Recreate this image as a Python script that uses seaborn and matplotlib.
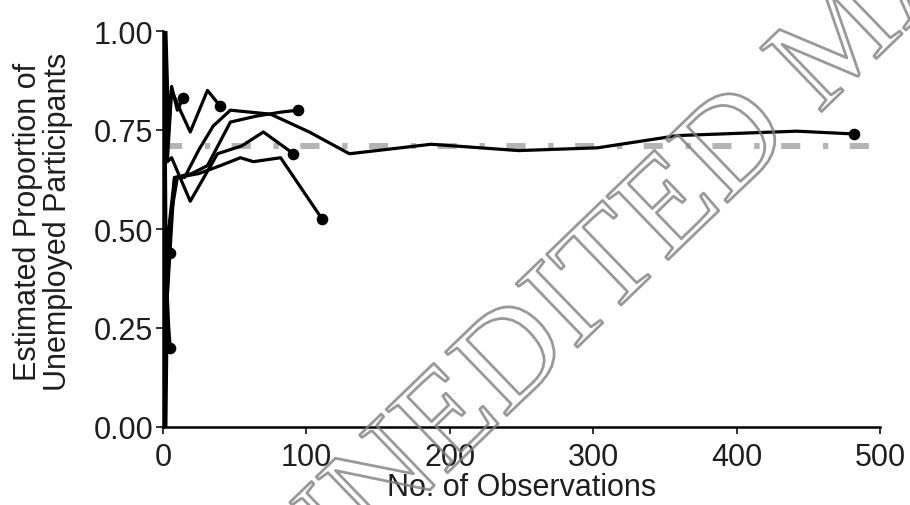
import numpy as np
import pandas as pd
import matplotlib
matplotlib.use("Agg")
import matplotlib.pyplot as plt
import matplotlib.patheffects as pe
import seaborn as sns

# ---- data ----
run_a_n = [1, 2, 3, 4, 5]
run_a_p = [0.0, 0.0, 0.33, 0.25, 0.20]
run_b_n = [1, 2, 3, 4, 5]
run_b_p = [1.0, 0.5, 0.33, 0.5, 0.44]
run_c_n = [1, 2, 4, 6, 10, 14]
run_c_p = [1.0, 1.0, 0.75, 0.86, 0.80, 0.83]
run_d_n = [1, 3, 6, 12, 19, 31, 40]
run_d_p = [1.0, 0.67, 0.85, 0.80, 0.745, 0.85, 0.81]
run_e_n = [1, 2, 4, 8, 15, 25, 35, 47, 75, 102, 130, 187, 248, 303, 359, 442, 482]
run_e_p = [0.0, 0.5, 0.5, 0.63, 0.63, 0.70, 0.76, 0.80, 0.79, 0.745, 0.69,
           0.714, 0.698, 0.705, 0.736, 0.747, 0.74]
run_f_n = [1, 3, 8, 20, 31, 47, 65, 82, 94]
run_f_p = [0.0, 0.33, 0.63, 0.64, 0.66, 0.77, 0.785, 0.795, 0.80]
run_g_n = [1, 3, 6, 19, 38, 55, 70, 91]
run_g_p = [1.0, 0.67, 0.68, 0.57, 0.69, 0.71, 0.745, 0.69]
run_h_n = [1, 4, 10, 25, 40, 54, 63, 82, 111]
run_h_p = [0.0, 0.5, 0.63, 0.64, 0.66, 0.68, 0.67, 0.68, 0.525]

true_proportion = 0.71
x_ticks = [0, 100, 200, 300, 400, 500]
y_ticks = [0.0, 0.25, 0.50, 0.75, 1.00]
y_tick_labels = ["0.00", "0.25", "0.50", "0.75", "1.00"]
x_label = "No. of Observations"
y_label = "Estimated Proportion of\nUnemployed Participants"
watermark = "UNEDITED MANUSCRIPT"

runs = {
    "a": (run_a_n, run_a_p), "b": (run_b_n, run_b_p), "c": (run_c_n, run_c_p),
    "d": (run_d_n, run_d_p), "e": (run_e_n, run_e_p), "f": (run_f_n, run_f_p),
    "g": (run_g_n, run_g_p), "h": (run_h_n, run_h_p),
}
frames = [pd.DataFrame({"n": n, "p": p, "run": k}) for k, (n, p) in runs.items()]
df = pd.concat(frames, ignore_index=True)
ends = df.groupby("run", as_index=False).last()

# ---- style ----
sns.set_theme(style="ticks")
plt.rcParams["font.family"] = ["Liberation Sans", "DejaVu Sans"]
TXT = "#1e1e1e"

fig = plt.figure(figsize=(9.1, 5.06), dpi=100)
ax = fig.add_axes([163 / 910, 1 - 428 / 506, 717 / 910, 396 / 506])

ax.axhline(true_proportion, color="#b4b4b4", lw=4.3, dashes=(3.2, 3.8, 0.9, 3.6),
           dash_capstyle="butt", zorder=1)

sns.lineplot(data=df, x="n", y="p", units="run", estimator=None, color="black",
             lw=2.3, ax=ax, zorder=3, legend=False)
sns.scatterplot(data=ends, x="n", y="p", color="black", s=70, edgecolor="black",
                linewidth=0, ax=ax, zorder=4, legend=False)

ax.set_xlim(0, 500)
ax.set_ylim(0, 1.0)
ax.set_xticks(x_ticks)
ax.set_yticks(y_ticks)
ax.set_yticklabels(y_tick_labels)
sns.despine(ax=ax)
for s in ["left", "bottom"]:
    ax.spines[s].set_linewidth(1.8)
    ax.spines[s].set_color("black")
ax.tick_params(axis="both", length=5, width=1.4, color="#333333",
               labelsize=22, labelcolor=TXT, direction="out")
ax.tick_params(axis="y", pad=2)
ax.tick_params(axis="x", pad=6)

ax.set_xlabel(x_label, fontsize=22, color=TXT, labelpad=0)
ax.set_ylabel(y_label, fontsize=22, color=TXT, linespacing=1.0)
ax.yaxis.set_label_coords(-0.126, 0.52)

# watermark (outlined serif text)
t = fig.text(282 / 910, 1 - 588 / 506, watermark, fontsize=97,
             family=["Liberation Serif", "DejaVu Serif"],
             color=(1, 1, 1, 0), rotation=44, rotation_mode="anchor",
             ha="left", va="center", zorder=10)
t.set_path_effects([pe.Stroke(linewidth=2.0, foreground=(0.5, 0.5, 0.5, 0.8))])

fig.savefig("out.png", dpi=100)
